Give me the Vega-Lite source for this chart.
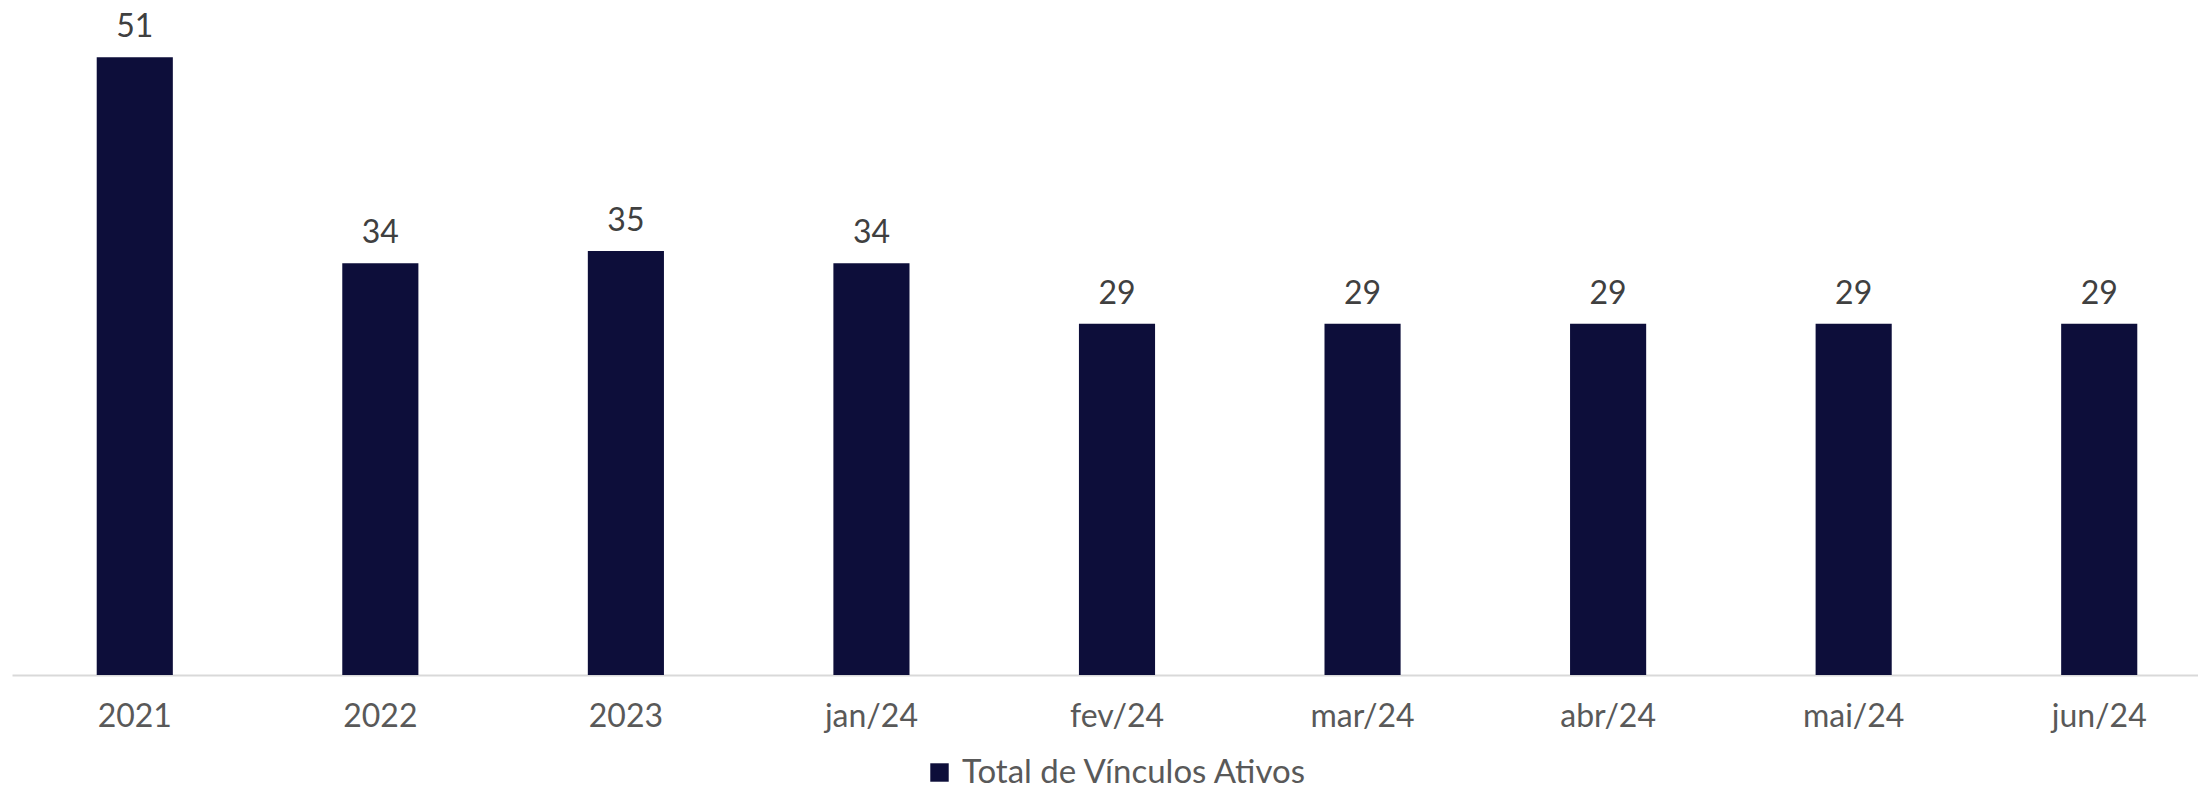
{
  "$schema": "https://vega.github.io/schema/vega-lite/v6.json",
  "width": 2210,
  "height": 675,
  "autosize": {"type": "none"},
  "padding": {"left": 12, "top": 0, "right": 0, "bottom": 116},
  "background": "white",
  "config": {
    "view": {"stroke": null},
    "font": "Lato"
  },
  "data": {
    "values": [
      {"periodo": "2021", "valor": 51, "serie": "Total de Vínculos Ativos"},
      {"periodo": "2022", "valor": 34, "serie": "Total de Vínculos Ativos"},
      {"periodo": "2023", "valor": 35, "serie": "Total de Vínculos Ativos"},
      {"periodo": "jan/24", "valor": 34, "serie": "Total de Vínculos Ativos"},
      {"periodo": "fev/24", "valor": 29, "serie": "Total de Vínculos Ativos"},
      {"periodo": "mar/24", "valor": 29, "serie": "Total de Vínculos Ativos"},
      {"periodo": "abr/24", "valor": 29, "serie": "Total de Vínculos Ativos"},
      {"periodo": "mai/24", "valor": 29, "serie": "Total de Vínculos Ativos"},
      {"periodo": "jun/24", "valor": 29, "serie": "Total de Vínculos Ativos"}
    ]
  },
  "encoding": {
    "x": {
      "field": "periodo",
      "type": "nominal",
      "sort": null,
      "scale": {"paddingInner": 0.69, "paddingOuter": 0.345},
      "axis": {
        "title": null,
        "labelAngle": 0,
        "ticks": false,
        "labelFontSize": 32,
        "labelColor": "#595959",
        "labelPadding": 26,
        "domainColor": "#d9d9d9",
        "domainWidth": 2
      }
    },
    "y": {
      "field": "valor",
      "type": "quantitative",
      "scale": {"domain": [0, 55.73], "nice": false},
      "axis": null
    }
  },
  "layer": [
    {
      "mark": {"type": "bar"},
      "encoding": {
        "color": {
          "field": "serie",
          "type": "nominal",
          "scale": {"range": ["#0d0e3a"]},
          "legend": {
            "title": null,
            "orient": "none",
            "legendX": 911,
            "legendY": 756,
            "direction": "horizontal",
            "symbolType": "square",
            "symbolSize": 340,
            "symbolStrokeWidth": 0,
            "labelFontSize": 33,
            "labelColor": "#595959",
            "labelOffset": 6,
            "labelLimit": 1000,
            "padding": 0
          }
        }
      }
    },
    {
      "mark": {"type": "text", "baseline": "bottom", "dy": -13, "fontSize": 32, "color": "#404040"},
      "encoding": {
        "text": {"field": "valor", "type": "quantitative"}
      }
    }
  ]
}
